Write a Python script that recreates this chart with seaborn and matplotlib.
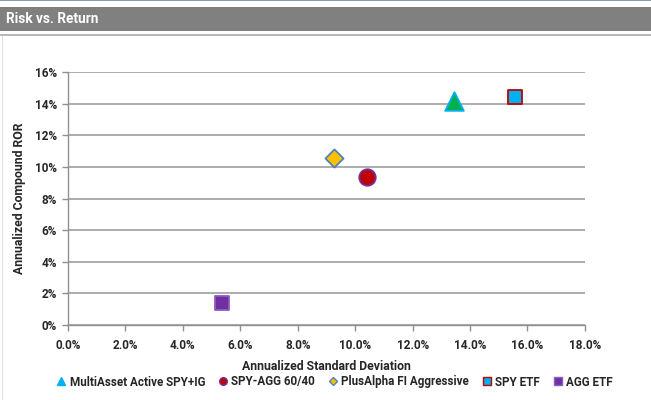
import matplotlib
matplotlib.use("Agg")
import matplotlib.pyplot as plt
import seaborn as sns
import pandas as pd
from matplotlib.lines import Line2D
from matplotlib.patches import Rectangle
from matplotlib.ticker import FuncFormatter, MultipleLocator

names = ["MultiAsset Active SPY+IG", "SPY-AGG 60/40", "PlusAlpha FI Aggressive", "SPY ETF", "AGG ETF"]
std_dev = [13.45, 10.4, 9.25, 15.55, 5.35]
ror = [14.15, 9.35, 10.55, 14.4, 1.4]

markers = ["^", "o", "D", "s", "s"]
faces = ["#00B050", "#C00000", "#FFC000", "#00B0F0", "#7030A0"]
edges = ["#00B0F0", "#7030A0", "#4F81BD", "#C00000", "#8E5CC0"]
sizes = [180, 140, 85, 95, 90]

sns.set_theme(style="white")
plt.rcParams["font.family"] = ["Roboto", "DejaVu Sans"]

fig = plt.figure(figsize=(6.51, 4.0), dpi=100)
fig.patch.set_facecolor("white")

# header decorations
fig.add_artist(Rectangle((0, 0.9975), 1, 0.0025, transform=fig.transFigure, color="#8A9AB0", lw=0))
fig.add_artist(Rectangle((0, 0.9225), 1, 0.06, transform=fig.transFigure, color="#808080", lw=0))
fig.add_artist(Rectangle((0, 0.91), 1, 0.006, transform=fig.transFigure, color="#B8B8B8", lw=0))
fig.add_artist(Rectangle((0.003, 0), 0.002, 0.91, transform=fig.transFigure, color="#E0E0E0", lw=0))
fig.text(0.009, 0.9525, "Risk vs. Return", color="white", fontsize=9.8, fontweight="bold",
         va="center", ha="left")

ax = fig.add_axes([0.1045, 0.1875, 0.794, 0.6325])
df = pd.DataFrame({"name": names, "x": std_dev, "y": ror})
for i, row in df.iterrows():
    sns.scatterplot(x=[row["x"]], y=[row["y"]], ax=ax, marker=markers[i], s=sizes[i],
                    color=faces[i], edgecolor=edges[i], linewidth=1.3, zorder=3, legend=False)

ax.set_xlim(0, 18)
ax.set_ylim(0, 16)
ax.xaxis.set_major_locator(MultipleLocator(2))
ax.yaxis.set_major_locator(MultipleLocator(2))
ax.xaxis.set_major_formatter(FuncFormatter(lambda v, p: f"{v:.1f}%"))
ax.yaxis.set_major_formatter(FuncFormatter(lambda v, p: f"{v:.0f}%"))
ax.grid(axis="y", color="#A6A6A6", lw=1.3)
ax.grid(axis="x", visible=False)
ax.set_axisbelow(True)
for s in ["top", "right"]:
    ax.spines[s].set_visible(False)
for s in ["left", "bottom"]:
    ax.spines[s].set_color("#909090")
    ax.spines[s].set_linewidth(1.0)
ax.tick_params(axis="both", which="major", length=4, width=1, color="#909090",
               labelsize=8.5, direction="out", bottom=True, left=True)
for lab in ax.get_xticklabels() + ax.get_yticklabels():
    lab.set_fontweight("bold")
ax.tick_params(axis="x", pad=6)
ax.tick_params(axis="y", pad=4)
ax.set_xlabel("Annualized Standard Deviation", fontsize=8.8, fontweight="bold", labelpad=6)
ax.set_ylabel("Annualized Compound ROR", fontsize=8.8, fontweight="bold", labelpad=6)

handles = [Line2D([0], [0], marker=markers[i], linestyle="none", markersize=5.5 if markers[i] != "D" else 4.5,
                  markerfacecolor=faces[i] if i != 0 else "#00B0F0", markeredgecolor=edges[i],
                  markeredgewidth=1.0, label=names[i]) for i in range(len(names))]
leg = fig.legend(handles=handles, loc="center", bbox_to_anchor=(0.513, 0.045), ncol=5, frameon=False,
                 fontsize=8.4, handletextpad=0.25, columnspacing=1.0, handlelength=1.0)
for t in leg.get_texts():
    t.set_fontweight("bold")

fig.savefig("out.png", dpi=100)
